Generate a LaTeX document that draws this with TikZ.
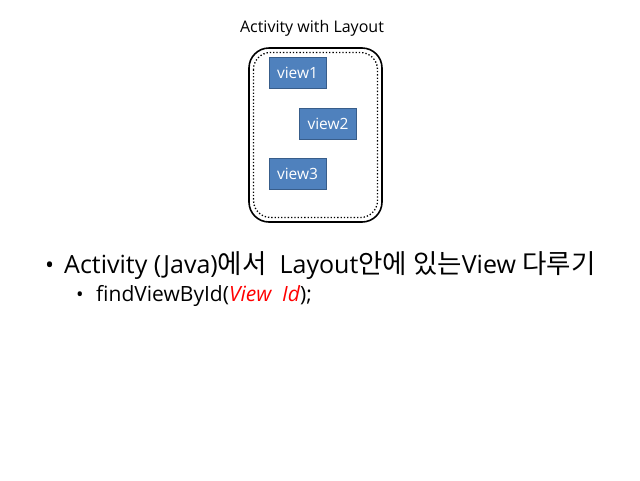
\documentclass[tikz,border=0pt]{standalone}
\usepackage{fontspec}
\setmainfont{Open Sans}
\newfontfamily\kr[Scale=1.06]{Noto Sans CJK KR}
\definecolor{viewfill}{HTML}{4F81BD}
\definecolor{viewedge}{HTML}{385D8A}
\begin{document}
\begin{tikzpicture}[x=1pt,y=-1pt,
  viewbox/.style={draw=viewedge,fill=viewfill,line width=0.8pt,text=white,minimum width=57pt,minimum height=31pt,inner sep=0pt,font=\fontsize{15.5}{17}\selectfont},
  txt/.style={inner sep=0pt,anchor=base west}]
\useasboundingbox (0,0) rectangle (640,480);
\draw[line width=1.6pt,rounded corners=20pt] (249,48) rectangle (382,222);
\draw[line width=1.3pt,dotted,rounded corners=17pt] (253.5,52.5) rectangle (377.5,217.5);
\node[txt,anchor=base] (title) at (312,32) {\fontsize{16}{18}\selectfont Activity with Layout};
\node[viewbox] (v1) at (297.5,73) {view1};
\node[viewbox] (v2) at (328,123.5) {view2};
\node[viewbox] (v3) at (297.5,173.5) {view3};
\node[txt] (b1) at (45,273) {\fontsize{24}{28}\selectfont •};
\node[txt] (l1) at (64,273) {\fontsize{25}{30}\selectfont Activity (Java){\kr 에서}\ \ Layout{\kr 안에 있는}View {\kr 다루기}};
\node[txt] (b2) at (76,301) {\fontsize{20}{24}\selectfont •};
\node[txt] (l2) at (96,301) {\fontsize{21}{24}\selectfont findViewById(\textcolor{red}{\itshape View \ Id});};
\end{tikzpicture}
\end{document}
